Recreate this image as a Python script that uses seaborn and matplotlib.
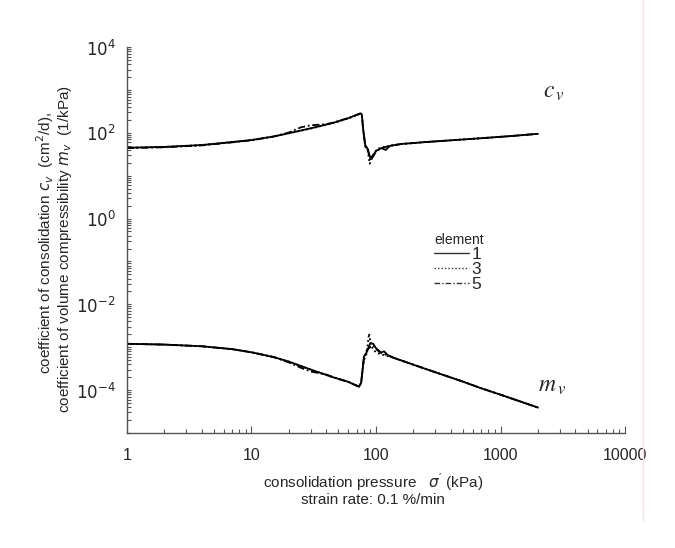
import numpy as np
import pandas as pd
import seaborn as sns
import matplotlib.pyplot as plt
from matplotlib.lines import Line2D
from matplotlib.ticker import LogLocator, NullFormatter

# coefficient of consolidation cv (cm2/d), per element
p_cv1 = [1, 2, 4, 7, 10, 15, 20, 30, 45, 60, 75, 77, 79, 82, 86, 90, 95, 100, 110, 120, 130, 160, 250, 400, 700, 1200, 2000]
cv1 = [45, 47, 52, 61, 68, 82, 98, 128, 170, 220, 285, 270, 120, 52, 42, 26, 30, 38, 44, 40, 50, 55, 61, 67, 75, 84, 95]
p_cv3 = [1, 2, 4, 7, 10, 15, 20, 30, 45, 60, 75, 77, 79, 82, 86, 89, 92, 97, 105, 120, 160, 250, 400, 700, 1200, 2000]
cv3 = [45, 47, 52, 61, 68, 82, 98, 126, 168, 218, 280, 265, 110, 48, 38, 19, 24, 35, 43, 48, 55, 61, 67, 75, 84, 95]
p_cv5 = [1, 2, 4, 7, 10, 15, 20, 25, 30, 40, 45, 60, 75, 77, 79, 82, 86, 90, 95, 100, 110, 130, 160, 250, 400, 700, 1200, 2000]
cv5 = [44, 46, 51, 60, 67, 82, 102, 135, 150, 160, 172, 222, 282, 268, 115, 50, 40, 23, 28, 37, 44, 50, 55, 61, 67, 75, 84, 95]

# coefficient of volume compressibility mv (1/kPa), per element
p_mv1 = [1, 2, 4, 7, 10, 15, 20, 30, 45, 60, 73, 76, 80, 85, 90, 95, 100, 110, 116, 125, 140, 200, 300, 500, 700, 1000, 1500, 2000]
mv1 = [1.2e-3, 1.15e-3, 1.05e-3, 9e-4, 7.6e-4, 5.9e-4, 4.6e-4, 3.0e-4, 2.0e-4, 1.55e-4, 1.2e-4, 1.5e-4, 6e-4, 8e-4, 1.25e-3, 1.2e-3, 9.5e-4, 7.5e-4, 8e-4, 6.5e-4, 5.6e-4, 3.9e-4, 2.6e-4, 1.57e-4, 1.1e-4, 7.8e-5, 5.2e-5, 3.9e-5]
p_mv3 = [1, 2, 4, 7, 10, 15, 20, 30, 45, 60, 73, 76, 80, 84, 88, 91, 95, 100, 110, 125, 140, 200, 300, 500, 700, 1000, 1500, 2000]
mv3 = [1.2e-3, 1.15e-3, 1.05e-3, 9e-4, 7.6e-4, 5.9e-4, 4.6e-4, 3.0e-4, 2.0e-4, 1.55e-4, 1.2e-4, 1.4e-4, 5e-4, 7e-4, 2.1e-3, 1.1e-3, 9e-4, 7.5e-4, 6.8e-4, 6.2e-4, 5.6e-4, 3.9e-4, 2.6e-4, 1.57e-4, 1.1e-4, 7.8e-5, 5.2e-5, 3.9e-5]
p_mv5 = [1, 2, 4, 7, 10, 15, 20, 25, 30, 40, 45, 60, 73, 76, 80, 85, 90, 95, 100, 110, 125, 140, 200, 300, 500, 700, 1000, 1500, 2000]
mv5 = [1.2e-3, 1.15e-3, 1.05e-3, 9e-4, 7.6e-4, 5.9e-4, 4.4e-4, 3.3e-4, 2.7e-4, 2.3e-4, 2.0e-4, 1.55e-4, 1.2e-4, 1.45e-4, 5.5e-4, 9e-4, 1.0e-3, 1.1e-3, 9e-4, 7.3e-4, 6.4e-4, 5.6e-4, 3.9e-4, 2.6e-4, 1.57e-4, 1.1e-4, 7.8e-5, 5.2e-5, 3.9e-5]

elements = ["1", "3", "5"]
x_ticks = [1, 10, 100, 1000, 10000]
x_ticklabels = ["1", "10", "100", "1000", "10000"]
y_ticks = [1e-4, 1e-2, 1e0, 1e2, 1e4]
y_ticklabels = [r"$10^{-4}$", r"$10^{-2}$", r"$10^{0}$", r"$10^{2}$", r"$10^{4}$"]


def long_form(xs, ys):
    frames = []
    for el, x, y in zip(elements, xs, ys):
        frames.append(pd.DataFrame({"pressure": x, "value": y, "element": el}))
    return pd.concat(frames, ignore_index=True)


df_cv = long_form([p_cv1, p_cv3, p_cv5], [cv1, cv3, cv5])
df_mv = long_form([p_mv1, p_mv3, p_mv5], [mv1, mv3, mv5])

sns.set_style("ticks")
plt.rcParams["font.family"] = ["Liberation Sans Narrow", "Liberation Sans", "DejaVu Sans"]
plt.rcParams["mathtext.fontset"] = "custom"
plt.rcParams["mathtext.rm"] = "Liberation Sans Narrow"
plt.rcParams["mathtext.it"] = "Liberation Sans Narrow:italic"

fig = plt.figure(figsize=(6.75, 5.48), dpi=100)
ax = fig.add_axes([0.188, 0.210, 0.738, 0.704])

line_dashes = {"1": "", "3": (1, 1.5), "5": (4, 1.5, 1, 1.5)}
sns.lineplot(data=df_cv, x="pressure", y="value", style="element", dashes=line_dashes,
             color="black", sort=False, estimator=None, lw=1.3, ax=ax, legend=True)
sns.lineplot(data=df_mv, x="pressure", y="value", style="element", dashes=line_dashes,
             color="black", sort=False, estimator=None, lw=1.3, ax=ax, legend=False)

ax.set_xscale("log")
ax.set_yscale("log")
ax.set_xlim(1, 10000)
ax.set_ylim(1e-5, 1e4)
ax.set_xticks(x_ticks)
ax.set_xticklabels(x_ticklabels, fontsize=11.5)
ax.set_yticks(y_ticks)
ax.set_yticklabels(y_ticklabels, fontsize=12)
ax.xaxis.set_minor_locator(LogLocator(base=10, subs=np.arange(2, 10), numticks=20))
ax.yaxis.set_minor_locator(LogLocator(base=10, subs=np.arange(1, 10), numticks=20))
ax.xaxis.set_minor_formatter(NullFormatter())
ax.yaxis.set_minor_formatter(NullFormatter())
ax.tick_params(which="both", direction="in", color="#555555", width=0.8)
ax.tick_params(axis="x", which="major", length=5, pad=11)
ax.tick_params(axis="x", which="minor", length=3)
ax.tick_params(axis="y", which="major", length=3, pad=8)
ax.tick_params(axis="y", which="minor", length=3)
sns.despine(ax=ax)
for s in ["left", "bottom"]:
    ax.spines[s].set_color("#555555")
    ax.spines[s].set_linewidth(1.0)

ax.set_xlabel("")
ax.set_ylabel("")

# axis titles
fig.text(0.067, 0.557, r"coefficient of consolidation $c_v$  (cm$^2$/d),", rotation=90,
         ha="center", va="center", fontsize=11)
fig.text(0.097, 0.545, r"coefficient of volume compressibility $m_v$  (1/kPa)", rotation=90,
         ha="center", va="center", fontsize=11)
fig.text(0.553, 0.121, r"consolidation pressure   $\sigma'$ (kPa)", ha="center", va="center",
         fontsize=11)
fig.text(0.553, 0.087, "strain rate: 0.1 %/min", ha="center", va="center", fontsize=11)

# curve names
ax.text(0.835, 0.868, r"$c_{\,v}$", transform=ax.transAxes, fontsize=17, math_fontfamily="stix")
ax.text(0.825, 0.108, r"$m_{\,v}$", transform=ax.transAxes, fontsize=17, math_fontfamily="stix")

sns.move_legend(ax, loc="upper left", bbox_to_anchor=(0.585, 0.56), frameon=False,
                title="element", prop={"size": 12.5}, title_fontsize=10, handlelength=2.0,
                handletextpad=0.15, labelspacing=0.0, alignment="left")
leg = ax.get_legend()
for h in leg.legend_handles:
    h.set_linewidth(1.0)
    h.set_color("#333333")

# scan edge
fig.add_artist(Line2D([0.953, 0.953], [0.05, 1.0], transform=fig.transFigure,
                      color="#f8e0e4", lw=1.0))

fig.savefig("out.png", dpi=100)
